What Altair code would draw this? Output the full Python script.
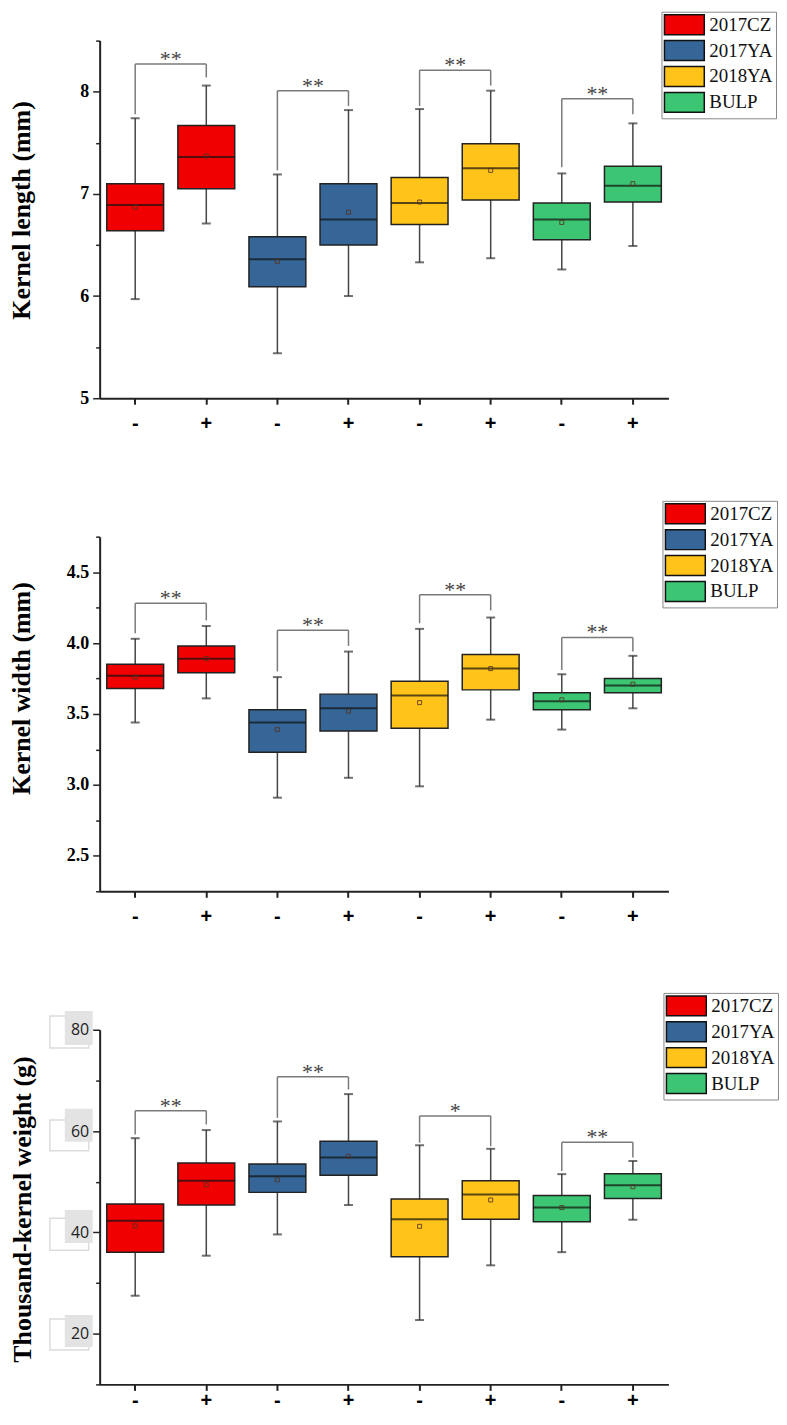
import altair as alt
import pandas as pd

groups = ["2017CZ", "2017CZ", "2017YA", "2017YA", "2018YA", "2018YA", "BULP", "BULP"]
signs = ["-", "+", "-", "+", "-", "+", "-", "+"]
legend_groups = ["2017CZ", "2017YA", "2018YA", "BULP"]
colors = ["#f00000", "#356697", "#ffc31a", "#3cc572"]

# Panel 1: Kernel length (mm)
len_lo = [5.97, 6.71, 5.44, 6.00, 6.33, 6.37, 6.26, 6.49]
len_q1 = [6.64, 7.05, 6.09, 6.50, 6.70, 6.94, 6.55, 6.92]
len_med = [6.89, 7.36, 6.36, 6.75, 6.91, 7.25, 6.75, 7.08]
len_mean = [6.87, 7.37, 6.34, 6.82, 6.92, 7.23, 6.72, 7.10]
len_q3 = [7.10, 7.67, 6.58, 7.10, 7.16, 7.49, 6.91, 7.27]
len_hi = [7.74, 8.06, 7.19, 7.82, 7.83, 8.01, 7.20, 7.69]
len_br_top = [8.27, 8.01, 8.21, 7.93]
len_br_left = [7.78, 7.23, 7.86, 7.26]
len_br_right = [8.14, 7.86, 8.06, 7.78]
len_sig = ["**", "**", "**", "**"]

# Panel 2: Kernel width (mm)
wid_lo = [3.44, 3.61, 2.91, 3.05, 2.99, 3.46, 3.39, 3.54]
wid_q1 = [3.68, 3.79, 3.23, 3.38, 3.40, 3.67, 3.53, 3.65]
wid_med = [3.77, 3.89, 3.44, 3.54, 3.63, 3.82, 3.59, 3.70]
wid_mean = [3.76, 3.89, 3.39, 3.52, 3.58, 3.82, 3.60, 3.71]
wid_q3 = [3.85, 3.98, 3.53, 3.64, 3.73, 3.92, 3.65, 3.75]
wid_hi = [4.03, 4.12, 3.76, 3.94, 4.10, 4.18, 3.78, 3.91]
wid_br_top = [4.28, 4.09, 4.34, 4.04]
wid_br_left = [4.07, 3.80, 4.14, 3.81]
wid_br_right = [4.16, 3.98, 4.23, 3.94]
wid_sig = ["**", "**", "**", "**"]

# Panel 3: Thousand-kernel weight (g)
tkw_lo = [27.5, 35.4, 39.6, 45.4, 22.7, 33.5, 36.1, 42.5]
tkw_q1 = [36.1, 45.4, 47.9, 51.3, 35.2, 42.6, 42.1, 46.7]
tkw_med = [42.3, 50.2, 51.1, 54.8, 42.6, 47.5, 44.9, 49.3]
tkw_mean = [41.3, 49.4, 50.4, 55.0, 41.2, 46.4, 44.9, 49.0]
tkw_q3 = [45.6, 53.7, 53.5, 58.0, 46.6, 50.2, 47.3, 51.6]
tkw_hi = [58.6, 60.2, 61.9, 67.3, 57.2, 56.5, 51.5, 54.1]
tkw_br_top = [64.0, 70.7, 63.0, 57.8]
tkw_br_left = [59.3, 62.6, 57.7, 52.1]
tkw_br_right = [61.3, 68.2, 57.0, 54.8]
tkw_sig = ["**", "**", "*", "**"]

# pasted label-box artefacts behind the panel-3 tick labels
deco_box_top = [22.9, 42.8, 62.2, 82.7]
deco_box_bot = [16.8, 36.5, 56.1, 76.4]
deco_sq_top = [23.7, 44.4, 64.4, 83.7]
deco_sq_bot = [17.4, 37.9, 57.9, 77.0]

keys = [f"{g}|{s}" for g, s in zip(groups, signs)]


def box_df(lo, q1, med, mean, q3, hi):
    return pd.DataFrame(dict(key=keys, group=groups, lo=lo, q1=q1, med=med,
                             mean=mean, q3=q3, hi=hi))


def bracket_df(top, lb, rb, lab):
    return pd.DataFrame(dict(left=keys[0::2], right=keys[1::2], top=top,
                             lb=lb, rb=rb, lab=lab))


X_SCALE = alt.Scale(domain=keys, paddingInner=0, paddingOuter=0)


def make_panel(box, br, ydomain, yvalues, title, label_expr, major_test,
               lfont, lweight, lsize, lcolor, title_x, title_y, legend_x, legend_y,
               height, xpad, deco=None):
    x_axis = alt.Axis(labelExpr="split(datum.value, '|')[1]", labelFont="Liberation Sans",
                      labelFontWeight="bold", labelFontSize=20, labelColor="black",
                      labelPadding=xpad, labelBaseline="middle", labelAngle=0,
                      tickSize=6, tickWidth=2, tickColor="#222",
                      domainColor="#222", domainWidth=2, grid=False, zindex=1)

    def X(field, **kw):
        return alt.X(f"{field}:N", scale=X_SCALE, axis=x_axis, title=None, **kw)

    yscale = alt.Scale(domain=ydomain, nice=False, zero=False)
    yaxis = alt.Axis(values=yvalues, labelExpr=label_expr,
                     tickSize={"condition": {"test": major_test, "value": 7}, "value": 4},
                     labelFont=lfont, labelFontWeight=lweight, labelFontSize=lsize,
                     labelColor=lcolor, labelPadding=4, tickWidth=1.5, tickColor="#222",
                     domainColor="#222", domainWidth=2, grid=False,
                     titleFont="Liberation Serif", titleFontWeight="bold",
                     titleFontSize=26, titleColor="black", titleX=title_x, titleY=title_y,
                     zindex=1)

    def Y(field):
        return alt.Y(f"{field}:Q", scale=yscale, axis=yaxis, title=title)

    base = alt.Chart(box)
    layers = []
    if deco is not None:
        dchart = alt.Chart(deco)
        layers.append(dchart.mark_rect(fill="white", stroke="#dcdcdc", strokeWidth=1.5).encode(
            x=alt.value(-50), x2=alt.value(-11), y=Y("bt"), y2="bb:Q"))
        layers.append(dchart.mark_rect(fill="#e3e3e3").encode(
            x=alt.value(-35), x2=alt.value(-7), y=Y("st"), y2="sb:Q"))
    layers.append(base.mark_rule(color="#444", strokeWidth=1.5).encode(
        x=X("key"), y=Y("lo"), y2="hi:Q"))
    layers.append(base.mark_tick(color="#333", thickness=2, size=9).encode(
        x=X("key"), y=Y("lo")))
    layers.append(base.mark_tick(color="#333", thickness=2, size=9).encode(
        x=X("key"), y=Y("hi")))
    layers.append(base.mark_bar(stroke="#222", strokeWidth=1.5, width={"band": 0.8},
                                opacity=1).encode(
        x=X("key"), y=Y("q1"), y2="q3:Q",
        fill=alt.Fill("group:N", scale=alt.Scale(domain=legend_groups, range=colors),
                      legend=alt.Legend(title=None, orient="none", legendX=legend_x,
                                        legendY=legend_y, direction="vertical",
                                        symbolType="M-1.111,-1.111H3.333V1.111H-1.111Z",
                                        symbolSize=324,
                                        symbolStrokeColor="#111", symbolStrokeWidth=1.5,
                                        symbolOpacity=1, labelFont="Liberation Serif",
                                        labelFontSize=19, labelColor="#111",
                                        labelOffset=25, rowPadding=0, padding=3,
                                        strokeColor="#888", fillColor="white",
                                        labelLimit=200))))
    layers.append(base.mark_tick(color="#111", thickness=2, size=57).encode(
        x=X("key"), y=Y("med")))
    layers.append(base.mark_point(shape="square", size=16, filled=False, color="#553322",
                                  strokeWidth=1, opacity=0.85).encode(
        x=X("key"), y=Y("mean")))
    bchart = alt.Chart(br)
    layers.append(bchart.mark_rule(color="#7a7a7a", strokeWidth=1.5).encode(
        x=X("left"), y=Y("top"), y2="lb:Q"))
    layers.append(bchart.mark_rule(color="#7a7a7a", strokeWidth=1.5).encode(
        x=X("right"), y=Y("top"), y2="rb:Q"))
    layers.append(bchart.mark_rule(color="#7a7a7a", strokeWidth=1.5).encode(
        x=X("left"), x2="right:N", y=Y("top")))
    layers.append(bchart.mark_text(font="Liberation Serif", fontSize=22, color="#444",
                                   baseline="alphabetic", dy=2).encode(
        x=X("right", bandPosition=0), y=Y("top"), text="lab:N"))
    return alt.layer(*layers).properties(width=571, height=height)


p1 = make_panel(box_df(len_lo, len_q1, len_med, len_mean, len_q3, len_hi),
                bracket_df(len_br_top, len_br_left, len_br_right, len_sig),
                [5, 8.5], [5, 5.5, 6, 6.5, 7, 7.5, 8, 8.5], "Kernel length (mm)",
                "datum.value % 1 === 0 ? format(datum.value, 'd') : ''",
                "datum.value % 1 === 0",
                "Liberation Serif", "bold", 18, "black", -65, 170, 564, -29, 359, 19)

p2 = make_panel(box_df(wid_lo, wid_q1, wid_med, wid_mean, wid_q3, wid_hi),
                bracket_df(wid_br_top, wid_br_left, wid_br_right, wid_sig),
                [2.25, 4.75], [2.25, 2.5, 2.75, 3.0, 3.25, 3.5, 3.75, 4.0, 4.25, 4.5, 4.75],
                "Kernel width (mm)",
                "(datum.value * 2) % 1 === 0 ? format(datum.value, '.1f') : ''",
                "(datum.value * 2) % 1 === 0",
                "Liberation Serif", "bold", 18, "black", -65, 152, 565, -36, 356, 19)

deco = pd.DataFrame(dict(bt=deco_box_top, bb=deco_box_bot, st=deco_sq_top, sb=deco_sq_bot))
p3 = make_panel(box_df(tkw_lo, tkw_q1, tkw_med, tkw_mean, tkw_q3, tkw_hi),
                bracket_df(tkw_br_top, tkw_br_left, tkw_br_right, tkw_sig),
                [10, 80], [10, 20, 30, 40, 50, 60, 70, 80], "Thousand-kernel weight (g)",
                "datum.value % 20 === 0 ? format(datum.value, 'd') : ''",
                "datum.value % 20 === 0",
                "Open Sans", "normal", 16, "#222", -64, 180, 566, -37, 356, 10, deco=deco)

chart = alt.vconcat(p1, p2, p3, spacing=139, bounds="flush").resolve_scale(
    fill="independent", y="independent").resolve_legend(fill="independent").properties(
    padding=0, background="white").configure_view(stroke="transparent", strokeWidth=0)

chart.save("out.html", embed_options={"renderer": "svg", "actions": False})
